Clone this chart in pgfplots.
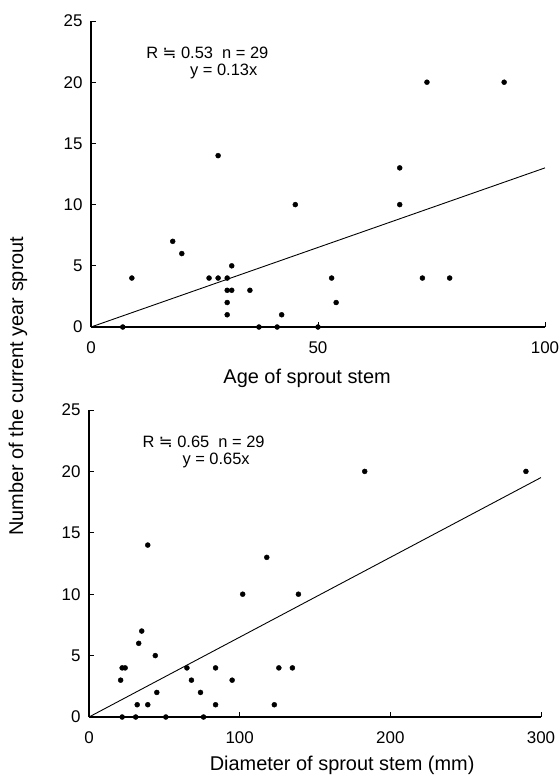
\documentclass[border=0pt]{standalone}
\usepackage{pgfplots}
\pgfplotsset{compat=1.18}
\usepackage{fontspec}
\setmainfont{Liberation Sans}
\newfontfamily\symfont{DejaVu Sans}

% Age of sprout stem vs. number of current-year sprouts
\pgfplotstableread{
x y
7 0
9 4
18 7
20 6
28 14
26 4
28 4
30 4
31 5
30 3
31 3
35 3
30 2
30 1
42 1
37 0
41 0
45 10
50 0
74 20
91 20
68 13
68 10
53 4
54 2
73 4
79 4
}\agedata

% Diameter of sprout stem vs. number of current-year sprouts
\pgfplotstableread{
x y
21 3
22 4
24 4
22 0
31 0
32 1
33 6
35 7
39 14
39 1
44 5
45 2
51 0
65 4
68 3
74 2
76 0
84 4
84 1
95 3
102 10
118 13
139 10
123 1
126 4
135 4
183 20
290 20
}\diamdata

\newcommand{\notefont}{\fontsize{16.5}{19}\selectfont}
\newcommand{\approxeq}{{\symfont ≒}}

\pgfplotsset{
  sproutaxis/.style={
    scale only axis,
    axis x line=bottom, axis y line=left,
    axis line style={-, line width=1.6bp},
    tick align=inside,
    major tick length=5bp,
    tick style={line width=1bp, black},
    ymin=0, ymax=25, ytick={0,5,...,25},
    clip=false,
    /pgf/number format/assume math mode=true,
    ticklabel style={font=\fontsize{17}{19}\selectfont},
    xticklabel style={yshift=-11bp},
    yticklabel style={xshift=-5bp},
    label style={font=\fontsize{20}{23}\selectfont},
  },
  sproutpts/.style={only marks, mark=*, mark size=2.5bp, black},
  sproutfit/.style={black, line width=0.9bp, no marks},
}

\begin{document}
\begin{tikzpicture}
\useasboundingbox (0,0) rectangle (559bp,-778bp);

\begin{axis}[sproutaxis,
  at={(91bp,-327bp)}, anchor=south west,
  width=454bp, height=306bp,
  xmin=0, xmax=100, xtick={0,50,100},
  xlabel={Age of sprout stem},
  xlabel style={at={(axis description cs:0.476,-0.167)}, anchor=center},
  ylabel={Number of the current year sprout},
  ylabel style={at={(axis description cs:-0.161,-0.193)}, anchor=center},
]
\addplot[sproutfit] coordinates {(0,0) (100,13)};
\addplot[sproutpts] table[x=x,y=y] {\agedata};
\node[anchor=west, font=\notefont] at (axis cs:11.4,22.4) {R \approxeq{} 0.53\ \ n = 29};
\node[anchor=east, font=\notefont] at (axis cs:37.4,20.9) {y = 0.13x};
\end{axis}

\begin{axis}[sproutaxis,
  at={(89bp,-717bp)}, anchor=south west,
  width=452bp, height=307bp,
  xmin=0, xmax=300, xtick={0,100,200,300},
  xlabel={Diameter of sprout stem (mm)},
  xlabel style={at={(axis description cs:0.56,-0.156)}, anchor=center},
]
\addplot[sproutfit] coordinates {(0,0) (300,19.5)};
\addplot[sproutpts] table[x=x,y=y] {\diamdata};
\node[anchor=west, font=\notefont] at (axis cs:33.2,22.4) {R \approxeq{} 0.65\ \ n = 29};
\node[anchor=east, font=\notefont] at (axis cs:109,20.9) {y = 0.65x};
\end{axis}
\end{tikzpicture}
\end{document}
